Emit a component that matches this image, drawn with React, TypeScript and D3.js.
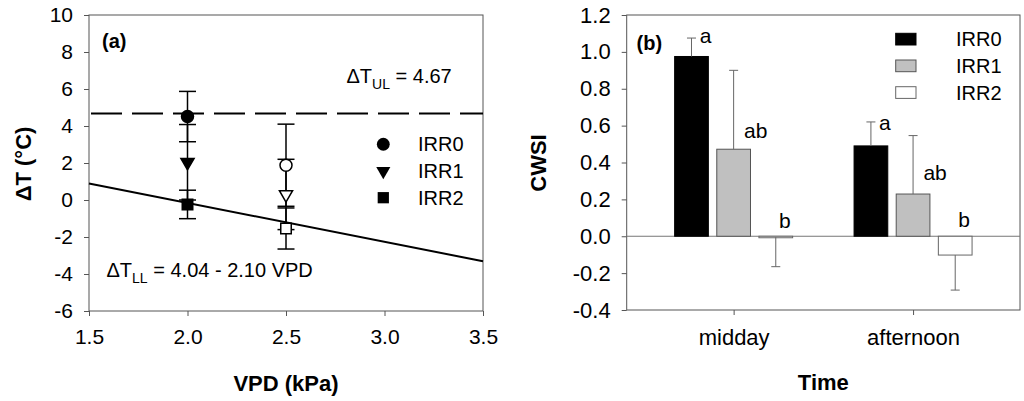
import * as d3 from 'd3'
import React, { useEffect, useRef } from 'react'

const seriesNames = ['IRR0', 'IRR1', 'IRR2']

// panel (a): canopy - air temperature vs VPD
const vpdLevels = [2.0, 2.5]
const irr0DeltaT = [4.51, 1.88]
const irr0DeltaTErr = [1.36, 2.22]
const irr1DeltaT = [2.04, 0.3]
const irr1DeltaTErr = [2.04, 1.9]
const irr2DeltaT = [-0.24, -1.54]
const irr2DeltaTErr = [0.77, 1.11]
const markerFilled = [true, false]
const upperLimit = 4.67
const lowerIntercept = 4.04
const lowerSlope = -2.1
const vpdTicks = [1.5, 2.0, 2.5, 3.0, 3.5]
const deltaTTicks = [-6, -4, -2, 0, 2, 4, 6, 8, 10]

// panel (b): crop water stress index
const timeLabels = ['midday', 'afternoon']
const cwsiIrr0 = [0.975, 0.49]
const cwsiIrr0Err = [0.1, 0.13]
const cwsiIrr1 = [0.472, 0.229]
const cwsiIrr1Err = [0.428, 0.317]
const cwsiIrr2 = [-0.005, -0.102]
const cwsiIrr2Err = [0.16, 0.19]
const irr0Letters = ['a', 'a']
const irr1Letters = ['ab', 'ab']
const irr2Letters = ['b', 'b']
const irr0LetterY = [1.048, 0.576]
const irr1LetterY = [0.533, 0.305]
const irr2LetterY = [0.045, 0.05]
const cwsiTicks = [-0.4, -0.2, 0, 0.2, 0.4, 0.6, 0.8, 1.0, 1.2]

const FONT = 'Liberation Sans, Arial, Helvetica, sans-serif'
const AXIS_GRAY = '#555'

// plain hyphen for negatives, like the original figure
const hyphen = (f: (n: number) => string) => (d: d3.NumberValue) => f(+d).replace('\u2212', '-')

export default function App() {
  const svgRef = useRef<SVGSVGElement>(null)

  useEffect(() => {
    if (!svgRef.current) return
    const svg = d3.select(svgRef.current)
    svg.selectAll('*').remove()
    svg.attr('font-family', FONT)

    // ---------- panel (a) ----------
    const a = { left: 89, right: 483, top: 15, bottom: 311 }
    const xA = d3.scaleLinear().domain([1.5, 3.5]).range([a.left, a.right])
    const yA = d3.scaleLinear().domain([-6, 10]).range([a.bottom, a.top])

    const ga = svg.append('g')

    ga.append('rect')
      .attr('x', a.left).attr('y', a.top)
      .attr('width', a.right - a.left).attr('height', a.bottom - a.top)
      .attr('fill', 'none').attr('stroke', AXIS_GRAY).attr('stroke-width', 1)

    const axA = ga.append('g')
      .attr('transform', `translate(${a.left},0)`)
      .call(d3.axisLeft(yA).tickValues(deltaTTicks).tickSize(5).tickPadding(11).tickFormat(hyphen(d3.format('d'))))
    const axAx = ga.append('g')
      .attr('transform', `translate(0,${a.bottom})`)
      .call(d3.axisBottom(xA).tickValues(vpdTicks).tickSize(5).tickPadding(13).tickFormat(hyphen(d3.format('.1f'))))
    for (const ax of [axA, axAx]) {
      ax.select('.domain').remove()
      ax.selectAll('line').attr('stroke', AXIS_GRAY)
      ax.selectAll('text').attr('font-size', 21).attr('font-family', FONT).attr('fill', '#000')
    }

    // upper limit (dashed)
    ga.append('line')
      .attr('x1', a.left + 2).attr('x2', a.right)
      .attr('y1', yA(upperLimit)).attr('y2', yA(upperLimit))
      .attr('stroke', '#000').attr('stroke-width', 2)
      .attr('stroke-dasharray', '31,10')

    // lower limit (regression)
    const lowerLine = d3.line<number>()
      .x(d => xA(d))
      .y(d => yA(lowerIntercept + lowerSlope * d))
    ga.append('path')
      .attr('d', lowerLine(xA.domain()))
      .attr('fill', 'none').attr('stroke', '#000').attr('stroke-width', 2)

    const dtMeans = [irr0DeltaT, irr1DeltaT, irr2DeltaT]
    const dtErrs = [irr0DeltaTErr, irr1DeltaTErr, irr2DeltaTErr]
    const symbols = [d3.symbolCircle, d3.symbolTriangle, d3.symbolSquare]
    const symSizes = [113, 75, 110]
    const symRot = [0, 180, 0]

    // error bars
    dtMeans.forEach((means, s) => {
      means.forEach((m, i) => {
        const x = xA(vpdLevels[i])
        const lo = yA(m - dtErrs[s][i])
        const hi = yA(m + dtErrs[s][i])
        const eb = ga.append('g').attr('stroke', '#000').attr('stroke-width', 1.5)
        eb.append('line').attr('x1', x).attr('x2', x).attr('y1', lo).attr('y2', hi)
        eb.append('line').attr('x1', x - 8.5).attr('x2', x + 8.5).attr('y1', lo).attr('y2', lo)
        eb.append('line').attr('x1', x - 8.5).attr('x2', x + 8.5).attr('y1', hi).attr('y2', hi)
      })
    })

    // markers
    dtMeans.forEach((means, s) => {
      means.forEach((m, i) => {
        ga.append('path')
          .attr('d', d3.symbol(symbols[s], symSizes[s])())
          .attr('transform', `translate(${xA(vpdLevels[i])},${yA(m)}) rotate(${symRot[s]})`)
          .attr('fill', markerFilled[i] ? '#000' : '#fff')
          .attr('stroke', '#000').attr('stroke-width', 1.5)
      })
    })

    // legend (a)
    seriesNames.forEach((name, s) => {
      const cy = 144.3 + s * 26.7
      ga.append('path')
        .attr('d', d3.symbol(symbols[s], symSizes[s] * 1.15)())
        .attr('transform', `translate(383.3,${cy}) rotate(${symRot[s]})`)
        .attr('fill', '#000')
      ga.append('text')
        .attr('x', 418).attr('y', cy).attr('dy', '0.35em')
        .attr('font-size', 20).text(name)
    })

    ga.append('text').attr('x', 102).attr('y', 48)
      .attr('font-size', 20).attr('font-weight', 'bold').text('(a)')

    const ul = ga.append('text').attr('x', 346.5).attr('y', 83).attr('font-size', 20)
    ul.append('tspan').text('ΔT')
    ul.append('tspan').attr('font-size', 14).attr('dy', 6).text('UL')
    ul.append('tspan').attr('dy', -6).text(` = ${upperLimit.toFixed(2)}`)

    const ll = ga.append('text').attr('x', 106.5).attr('y', 277).attr('font-size', 20)
    ll.append('tspan').text('ΔT')
    ll.append('tspan').attr('font-size', 14).attr('dy', 6).text('LL')
    ll.append('tspan').attr('dy', -6)
      .text(` = ${lowerIntercept.toFixed(2)} - ${Math.abs(lowerSlope).toFixed(2)} VPD`)

    ga.append('text')
      .attr('transform', `translate(23,164) rotate(-90)`)
      .attr('text-anchor', 'middle').attr('dy', '0.35em')
      .attr('font-size', 22).attr('font-weight', 'bold').text('ΔT (°C)')
    ga.append('text')
      .attr('x', (a.left + a.right) / 2).attr('y', 391)
      .attr('text-anchor', 'middle')
      .attr('font-size', 22).attr('font-weight', 'bold').text('VPD (kPa)')

    // ---------- panel (b) ----------
    const b = { left: 626.7, right: 1020, top: 15, bottom: 310 }
    const xB = d3.scalePoint<string>().domain(timeLabels).range([b.left, b.right]).padding(0.596)
    const xSeries = d3.scaleBand<string>().domain(seriesNames).range([-59, 59]).paddingInner(0.2)
    const yB = d3.scaleLinear().domain([-0.4, 1.2]).range([b.bottom, b.top])

    const gb = svg.append('g')

    gb.append('rect')
      .attr('x', b.left).attr('y', b.top)
      .attr('width', b.right - b.left).attr('height', b.bottom - b.top)
      .attr('fill', 'none').attr('stroke', AXIS_GRAY).attr('stroke-width', 1)

    const axB = gb.append('g')
      .attr('transform', `translate(${b.left},0)`)
      .call(d3.axisLeft(yB).tickValues(cwsiTicks).tickSize(5).tickPadding(11).tickFormat(hyphen(d3.format('.1f'))))
    const axBx = gb.append('g')
      .attr('transform', `translate(0,${b.bottom})`)
      .call(d3.axisBottom(xB).tickSize(5).tickPadding(14))
    for (const ax of [axB, axBx]) {
      ax.select('.domain').remove()
      ax.selectAll('line').attr('stroke', AXIS_GRAY)
      ax.selectAll('text').attr('font-family', FONT).attr('fill', '#000')
    }
    axB.selectAll('text').attr('font-size', 22)
    axBx.selectAll('text').attr('font-size', 22)

    // zero line
    gb.append('line')
      .attr('x1', b.left).attr('x2', b.right)
      .attr('y1', yB(0)).attr('y2', yB(0))
      .attr('stroke', '#777').attr('stroke-width', 1)

    const cwsiVals = [cwsiIrr0, cwsiIrr1, cwsiIrr2]
    const cwsiErrs = [cwsiIrr0Err, cwsiIrr1Err, cwsiIrr2Err]
    const letters = [irr0Letters, irr1Letters, irr2Letters]
    const letterY = [irr0LetterY, irr1LetterY, irr2LetterY]
    const letterDx = [14, 22, 9]
    const fills = ['#000', '#c0c0c0', '#fff']
    const strokes = ['#000', '#555', '#666']

    cwsiVals.forEach((vals, s) => {
      vals.forEach((v, i) => {
        const x0 = (xB(timeLabels[i]) as number) + (xSeries(seriesNames[s]) as number)
        const bw = xSeries.bandwidth()
        const cx = x0 + bw / 2
        const y0 = yB(0)
        const yv = yB(v)
        gb.append('rect')
          .attr('x', x0).attr('width', bw)
          .attr('y', Math.min(y0, yv)).attr('height', Math.max(1.5, Math.abs(yv - y0)))
          .attr('fill', fills[s]).attr('stroke', strokes[s]).attr('stroke-width', 1)

        const end = yB(v + Math.sign(v) * cwsiErrs[s][i])
        const eb = gb.append('g').attr('stroke', '#666').attr('stroke-width', 1)
        eb.append('line').attr('x1', cx).attr('x2', cx).attr('y1', yv).attr('y2', end)
        eb.append('line').attr('x1', cx - 4.5).attr('x2', cx + 4.5).attr('y1', end).attr('y2', end)

        gb.append('text')
          .attr('x', cx + letterDx[s]).attr('y', yB(letterY[s][i]))
          .attr('text-anchor', 'middle')
          .attr('font-size', 21).text(letters[s][i])
      })
    })

    // legend (b)
    seriesNames.forEach((name, s) => {
      const top = 33.3 + s * 26.7
      gb.append('rect')
        .attr('x', 895.7).attr('y', top).attr('width', 20.3).attr('height', 11.7)
        .attr('fill', fills[s]).attr('stroke', strokes[s]).attr('stroke-width', 1)
      gb.append('text')
        .attr('x', 956).attr('y', top + 5.85).attr('dy', '0.35em')
        .attr('font-size', 20).text(name)
    })

    gb.append('text').attr('x', 636.5).attr('y', 50)
      .attr('font-size', 20).attr('font-weight', 'bold').text('(b)')

    gb.append('text')
      .attr('transform', `translate(538,163) rotate(-90)`)
      .attr('text-anchor', 'middle').attr('dy', '0.35em')
      .attr('font-size', 22).attr('font-weight', 'bold').text('CWSI')
    gb.append('text')
      .attr('x', (b.left + b.right) / 2).attr('y', 390)
      .attr('text-anchor', 'middle')
      .attr('font-size', 22).attr('font-weight', 'bold').text('Time')
  }, [])

  return (
    <svg
      ref={svgRef}
      width={1024}
      height={401}
      style={{ position: 'absolute', left: 0, top: 0, background: '#fff' }}
      role="img"
      aria-label="Delta T vs VPD and CWSI by time"
    />
  )
}
